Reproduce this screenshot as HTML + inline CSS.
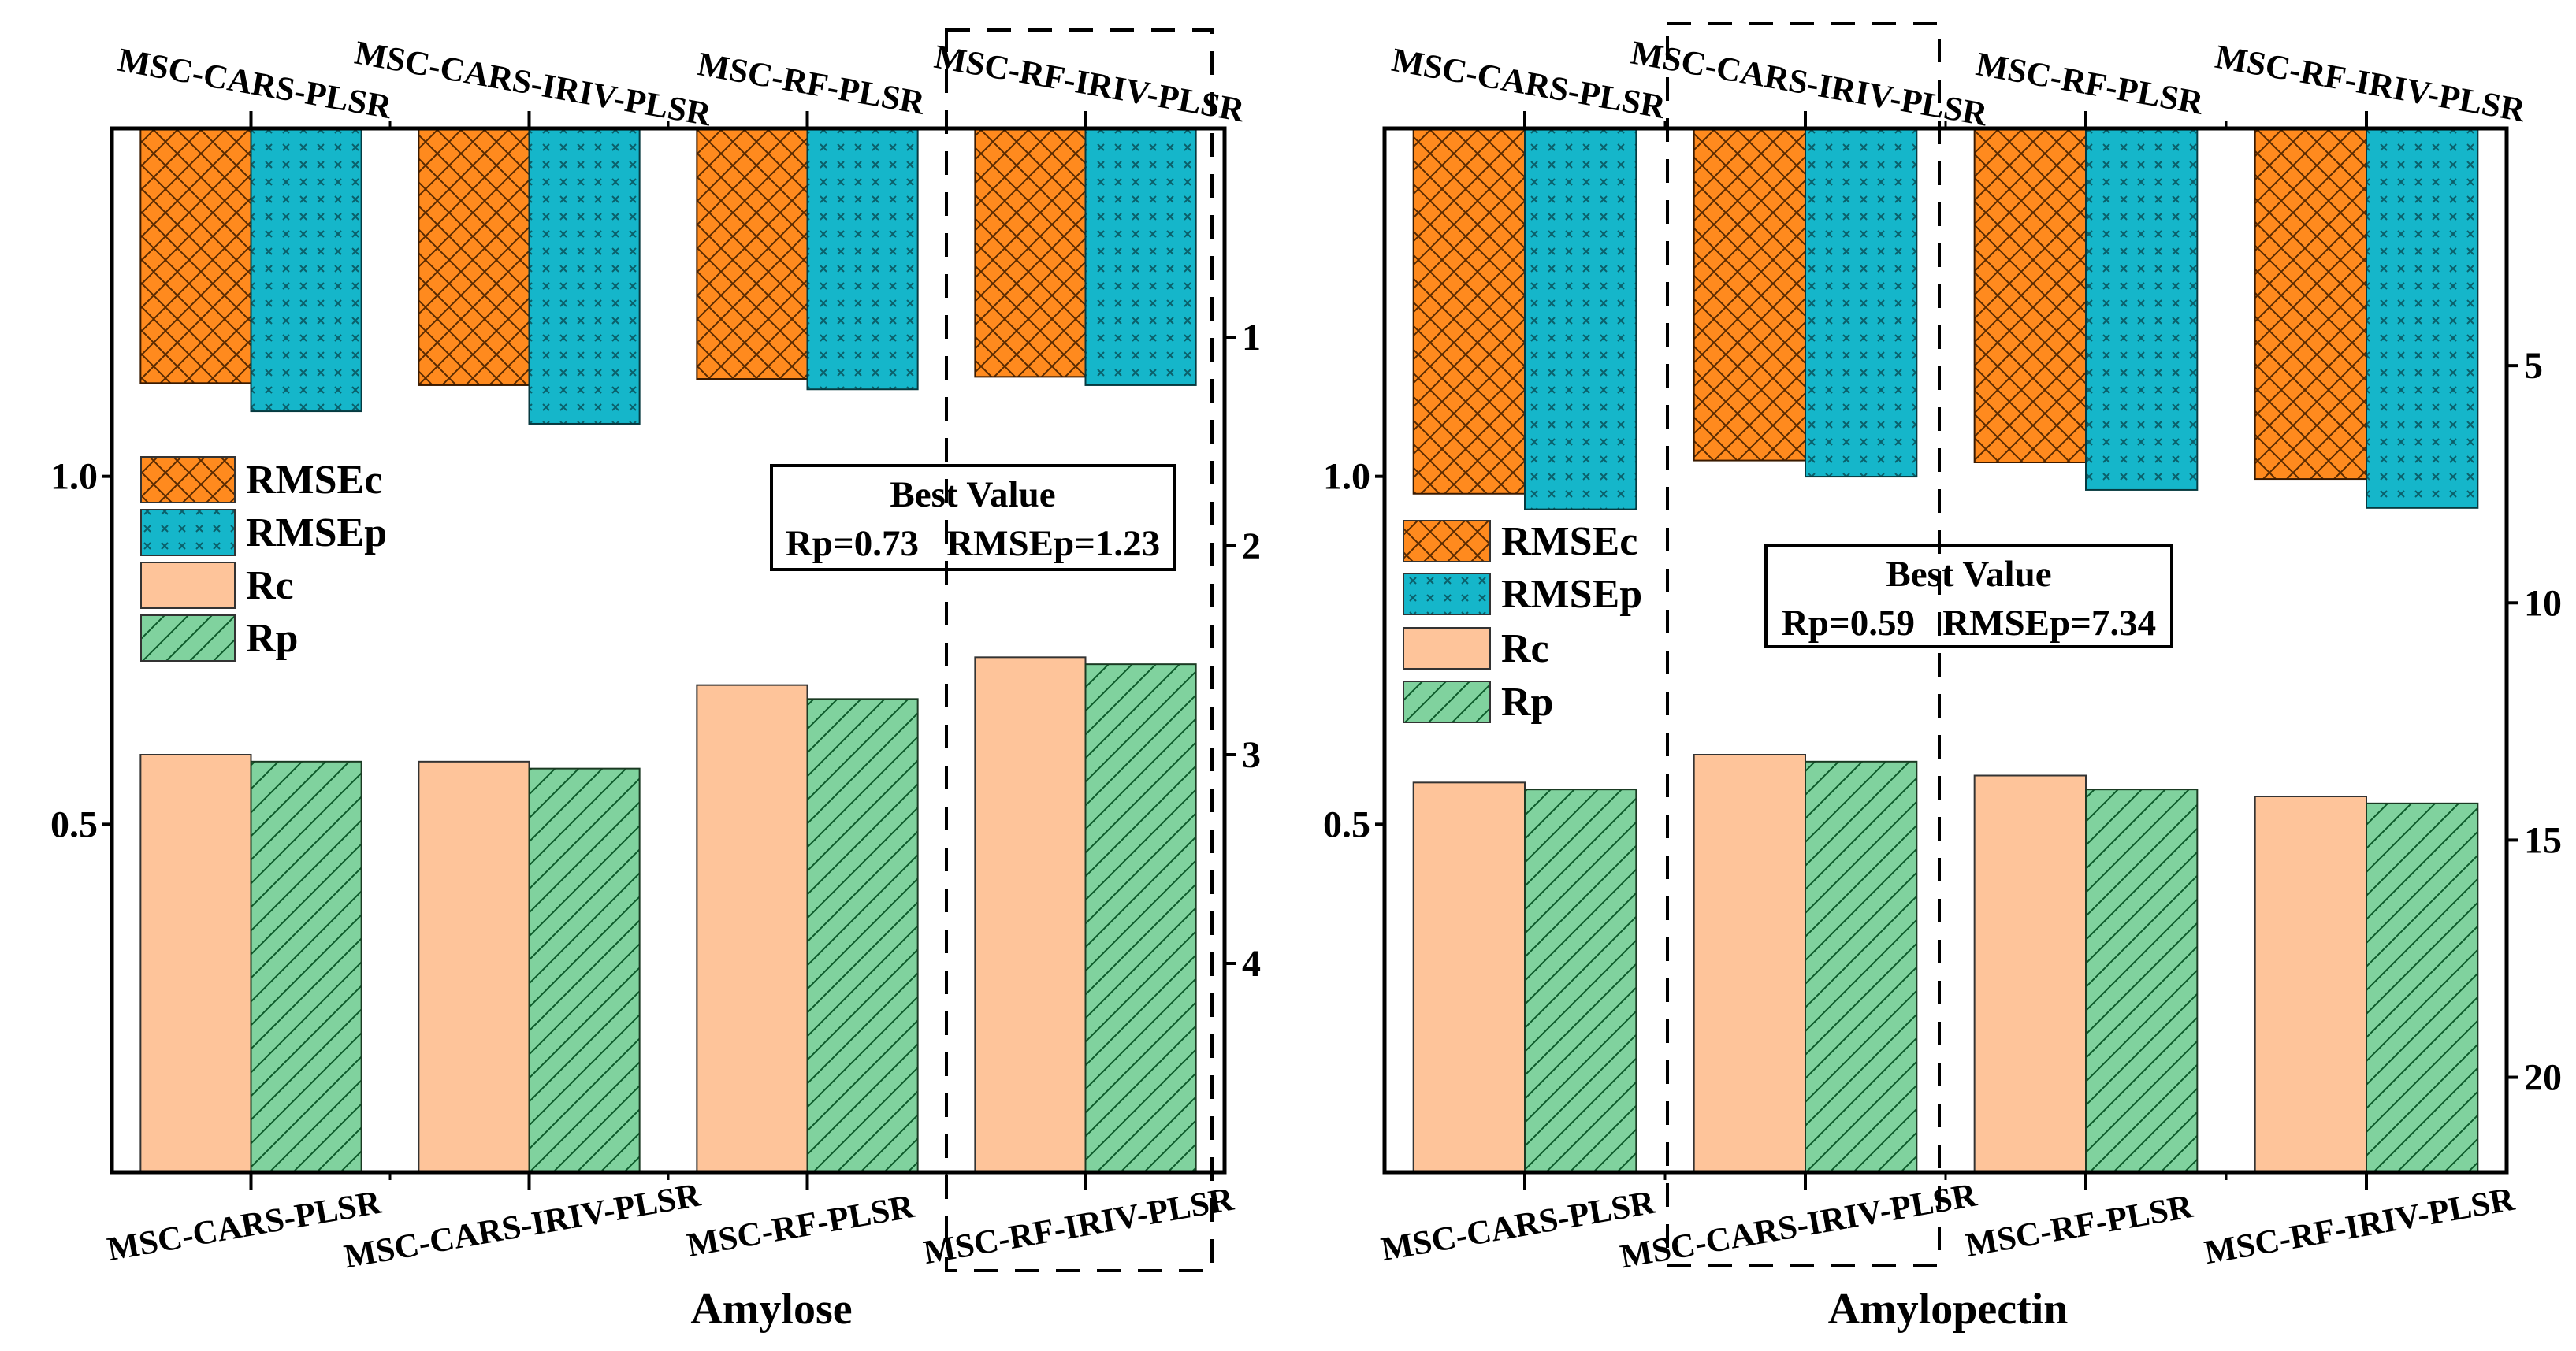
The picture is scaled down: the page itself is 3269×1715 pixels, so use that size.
<!DOCTYPE html>
<html><head><meta charset="utf-8"><style>
html,body{margin:0;padding:0;background:#fff;}
svg{display:block;}
text{font-family:"Liberation Serif","Times New Roman",serif;font-weight:bold;fill:#000;white-space:pre;}
</style></head><body>
<svg id="chart" width="3269" height="1715" viewBox="0 0 3269 1715" xmlns="http://www.w3.org/2000/svg" font-family="Liberation Serif, serif">
<defs>
<pattern id="pOrange" patternUnits="userSpaceOnUse" width="30" height="30">
<rect width="30" height="30" fill="#ff8a1e"/>
<path d="M0,0L30,30M30,0L0,30" stroke="#5a2a00" stroke-width="2"/>
</pattern>
<pattern id="pCyan" patternUnits="userSpaceOnUse" width="22" height="22">
<rect width="22" height="22" fill="#15b6ca"/>
<path d="M7,7L15,15M15,7L7,15" stroke="#0a5f6a" stroke-width="2"/>
</pattern>
<pattern id="pGreen" patternUnits="userSpaceOnUse" width="30" height="30">
<rect width="30" height="30" fill="#80d29e"/>
<path d="M-5,35L35,-5M-5,5L5,-5M25,35L35,25" stroke="#0c5a2a" stroke-width="2"/>
</pattern>
</defs>
<g id="root"></g>
</svg>
<script>
const categories = ["MSC-CARS-PLSR","MSC-CARS-IRIV-PLSR","MSC-RF-PLSR","MSC-RF-IRIV-PLSR"];
const amyloseRMSEc = [1.22,1.23,1.20,1.19];
const amyloseRMSEp = [1.355,1.415,1.25,1.23];
const amyloseRc = [0.60,0.59,0.70,0.74];
const amyloseRp = [0.59,0.58,0.68,0.73];
const amylopectinRMSEc = [7.7,7.0,7.04,7.39];
const amylopectinRMSEp = [8.03,7.34,7.62,8.0];
const amylopectinRc = [0.56,0.60,0.57,0.54];
const amylopectinRp = [0.55,0.59,0.55,0.53];
const leftTicks = [0.5,1.0];
const leftTickLabels = ["0.5","1.0"];
const amyloseRightTicks = [1,2,3,4];
const amylopectinRightTicks = [5,10,15,20];
const legendLabels = ["RMSEc","RMSEp","Rc","Rp"];

const NS="http://www.w3.org/2000/svg";
const root=document.getElementById('root');
function mk(tag,attrs,parent){const e=document.createElementNS(NS,tag);for(const k in attrs)e.setAttribute(k,attrs[k]);(parent||root).appendChild(e);return e;}

function panel(cfg){
  const g=mk('g',{});
  
  
  const L=cfg.x0,R=cfg.x1,T=163,B=1488;
  const n=categories.length, step=(R-L)/n, bw=step*0.397;
  const yL=v=>B-(v-0)/(1.5-0)*(B-T);
  const yR=v=>T+(v-0)/(cfg.rmax-0)*(B-T);
  categories.forEach((c,i)=>{
    const cx=L+step*(i+0.5);
    let r=mk('rect',{x:cx-bw,y:T,width:bw,height:yR(cfg.rmsec[i])-T,fill:'url(#pOrange)',stroke:'#3a1a00','stroke-width':2},g);
    
    
    r=mk('rect',{x:cx,y:T,width:bw,height:yR(cfg.rmsep[i])-T,fill:'url(#pCyan)',stroke:'#063a40','stroke-width':2},g);
    
    
    r=mk('rect',{x:cx-bw,y:yL(cfg.rc[i]),width:bw,height:B-yL(cfg.rc[i]),fill:'#fec49a',stroke:'#333','stroke-width':2},g);
    
    
    r=mk('rect',{x:cx,y:yL(cfg.rp[i]),width:bw,height:B-yL(cfg.rp[i]),fill:'url(#pGreen)',stroke:'#1a3a22','stroke-width':2},g);
    
    
    mk('line',{x1:cx,y1:B,x2:cx,y2:B+22,stroke:'#000','stroke-width':4},g);
    mk('line',{x1:cx,y1:T,x2:cx,y2:T-22,stroke:'#000','stroke-width':4},g);
    if(i>0){mk('line',{x1:L+step*i,y1:B,x2:L+step*i,y2:B+10,stroke:'#000','stroke-width':3},g);
      mk('line',{x1:L+step*i,y1:T,x2:L+step*i,y2:T-10,stroke:'#000','stroke-width':3},g);}
    let t=mk('text',{x:cx+5,y:120,'font-size':43,'font-family':'Liberation Serif, serif','font-weight':'bold','text-anchor':'middle',transform:`rotate(10 ${cx+5} 105)`},g);
    t.textContent=c;
    
    
    t=mk('text',{x:cx-9,y:1570,'font-size':43,'font-family':'Liberation Serif, serif','font-weight':'bold','text-anchor':'middle',transform:`rotate(-10 ${cx-9} 1555)`},g);
    t.textContent=c;
    
    
  });
  const f=mk('rect',{x:L,y:T,width:R-L,height:B-T,fill:'none',stroke:'#000','stroke-width':5},g);
  
  
  leftTicks.forEach((v,i)=>{
    mk('line',{x1:L-12,y1:yL(v),x2:L,y2:yL(v),stroke:'#000','stroke-width':4},g);
    const t=mk('text',{x:L-18,y:yL(v)+16,'font-size':48,'font-family':'Liberation Serif, serif','font-weight':'bold','text-anchor':'end'},g);
    t.textContent=leftTickLabels[i];
    
    
  });
  cfg.rticks.forEach(v=>{
    mk('line',{x1:R,y1:yR(v),x2:R+14,y2:yR(v),stroke:'#000','stroke-width':4},g);
    const t=mk('text',{x:R+22,y:yR(v)+16,'font-size':48,'font-family':'Liberation Serif, serif','font-weight':'bold'},g);
    t.textContent=String(v);
    
    
  });
  const fills=['url(#pOrange)','url(#pCyan)','#fec49a','url(#pGreen)'];
  cfg.legY.forEach((y,i)=>{
    const lg=mk('g',{},g);
    
    
    mk('rect',{x:cfg.legX,y:y,width:cfg.legW,height:cfg.legH,fill:fills[i],stroke:'#333','stroke-width':2},lg);
    const t=mk('text',{x:cfg.legX+cfg.legW+14,y:y+cfg.legH/2+17,'font-size':52,'font-family':'Liberation Serif, serif','font-weight':'bold'},lg);
    t.textContent=legendLabels[i];
  });
  const bb=mk('g',{},g);
  
  
  const b=cfg.box;
  mk('rect',{x:b[0],y:b[1],width:b[2],height:b[3],fill:'#fff',stroke:'#000','stroke-width':4},bb);
  let t=mk('text',{x:b[0]+b[2]/2,y:b[1]+52,'font-size':47,'font-family':'Liberation Serif, serif','font-weight':'bold','text-anchor':'middle'},bb);
  t.textContent='Best Value';
  t=mk('text',{x:b[0]+b[2]/2,y:b[1]+114,'font-size':47,'font-family':'Liberation Serif, serif','font-weight':'bold','text-anchor':'middle','xml:space':'preserve'},bb);
  t.textContent=cfg.best;
  const d=cfg.dash;
  const dr=mk('rect',{x:d[0],y:d[1],width:d[2]-d[0],height:d[3]-d[1],fill:'none',stroke:'#000','stroke-width':4,'stroke-dasharray':'30,22'},g);
  
  
  t=mk('text',{x:cfg.titleX,y:1680,'font-size':56,'font-family':'Liberation Serif, serif','font-weight':'bold','text-anchor':'middle'},g);
  t.textContent=cfg.title;
  
  
}
panel({name:'amylose',x0:142,x1:1554,rmax:5,rmsec:amyloseRMSEc,rmsep:amyloseRMSEp,rc:amyloseRc,rp:amyloseRp,
  rticks:amyloseRightTicks,legX:179,legW:119,legH:58,legY:[580,647,714,781],
  box:[979,591,511,132],best:'Rp=0.73   RMSEp=1.23',dash:[1201,38,1538,1613],title:'Amylose',titleX:979});
panel({name:'amylopectin',x0:1757,x1:3181,rmax:22,rmsec:amylopectinRMSEc,rmsep:amylopectinRMSEp,rc:amylopectinRc,rp:amylopectinRp,
  rticks:amylopectinRightTicks,legX:1781,legW:110,legH:52,legY:[661,728,797,865],
  box:[2241,692,515,129],best:'Rp=0.59   RMSEp=7.34',dash:[2116,30,2461,1606],title:'Amylopectin',titleX:2472});
</script>
</body></html>
